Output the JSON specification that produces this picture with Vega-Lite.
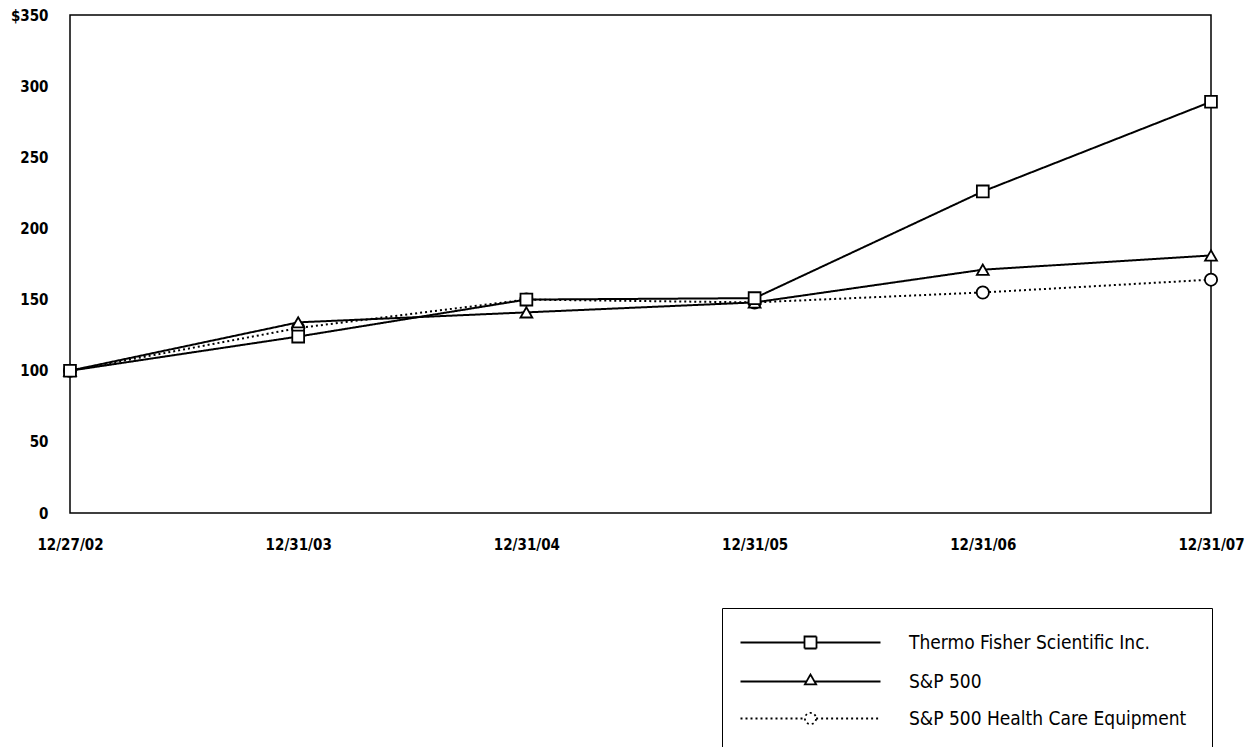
{
  "$schema": "https://vega.github.io/schema/vega-lite/v6.json",
  "autosize": {"type": "none"},
  "width": 1141,
  "height": 498,
  "padding": {"left": 70, "top": 15, "right": 37, "bottom": 234},
  "background": "white",
  "config": {
    "font": "DejaVu Sans Condensed",
    "view": {"stroke": "black", "strokeWidth": 1.5},
    "axis": {
      "grid": false,
      "ticks": false,
      "domain": false,
      "labelFont": "DejaVu Sans Condensed",
      "labelFontWeight": "bold",
      "labelFontSize": 15,
      "labelColor": "black",
      "title": null
    }
  },
  "data": {
    "values": [
      {"date": "12/27/02", "series": "Thermo Fisher Scientific Inc.", "value": 100},
      {"date": "12/31/03", "series": "Thermo Fisher Scientific Inc.", "value": 124},
      {"date": "12/31/04", "series": "Thermo Fisher Scientific Inc.", "value": 150},
      {"date": "12/31/05", "series": "Thermo Fisher Scientific Inc.", "value": 151},
      {"date": "12/31/06", "series": "Thermo Fisher Scientific Inc.", "value": 226},
      {"date": "12/31/07", "series": "Thermo Fisher Scientific Inc.", "value": 289},
      {"date": "12/27/02", "series": "S&P 500", "value": 100},
      {"date": "12/31/03", "series": "S&P 500", "value": 134},
      {"date": "12/31/04", "series": "S&P 500", "value": 141},
      {"date": "12/31/05", "series": "S&P 500", "value": 148},
      {"date": "12/31/06", "series": "S&P 500", "value": 171},
      {"date": "12/31/07", "series": "S&P 500", "value": 181},
      {"date": "12/27/02", "series": "S&P 500 Health Care Equipment", "value": 100},
      {"date": "12/31/03", "series": "S&P 500 Health Care Equipment", "value": 130},
      {"date": "12/31/04", "series": "S&P 500 Health Care Equipment", "value": 150},
      {"date": "12/31/05", "series": "S&P 500 Health Care Equipment", "value": 148},
      {"date": "12/31/06", "series": "S&P 500 Health Care Equipment", "value": 155},
      {"date": "12/31/07", "series": "S&P 500 Health Care Equipment", "value": 164}
    ]
  },
  "encoding": {
    "x": {
      "field": "date",
      "type": "ordinal",
      "scale": {"type": "point", "padding": 0},
      "axis": {"labelAngle": 0, "labelPadding": 24}
    },
    "y": {
      "field": "value",
      "type": "quantitative",
      "scale": {"domain": [0, 350], "nice": false},
      "axis": {
        "values": [0, 50, 100, 150, 200, 250, 300, 350],
        "labelPadding": 22,
        "labelExpr": "datum.value == 350 ? '$350' : datum.label"
      }
    }
  },
  "layer": [
    {
      "mark": {"type": "line", "color": "black", "strokeWidth": 2},
      "encoding": {
        "strokeDash": {
          "field": "series",
          "type": "nominal",
          "scale": {
            "domain": ["Thermo Fisher Scientific Inc.", "S&P 500", "S&P 500 Health Care Equipment"],
            "range": [[1, 0], [1, 0], [2, 3]]
          },
          "legend": {
            "orient": "none",
            "legendX": 652,
            "legendY": 593,
            "title": null,
            "strokeColor": "black",
            "padding": 25,
            "symbolSize": 16,
            "symbolOffset": 54,
            "symbolStrokeWidth": 1.8,
            "symbolStrokeColor": "black",
            "symbolFillColor": "white",
            "labelFont": "DejaVu Sans Condensed",
            "labelFontSize": 19,
            "labelColor": "black",
            "labelOffset": 89,
            "rowPadding": 17,
            "labelLimit": 400,
            "encode": {
              "symbols": {
                "update": {
                  "shape": {"signal": "datum.value === 'Thermo Fisher Scientific Inc.' ? 'M-35,0H-3M3,0H35M-3,-3H3V3H-3Z' : datum.value === 'S&P 500' ? 'M-35,0H-2.2M2.2,0H35M0,-3.5L2.8,1.4H-2.8Z' : 'M-35,0H-2.8M2.8,0H35M-2.8,0A2.8,2.8,0,1,0,2.8,0A2.8,2.8,0,1,0,-2.8,0Z'"}
                }
              }
            }
          }
        }
      }
    },
    {
      "transform": [{"filter": "datum.series === 'S&P 500 Health Care Equipment'"}],
      "mark": {"type": "point", "shape": "circle", "filled": true, "fill": "white", "stroke": "black", "strokeWidth": 1.8, "size": 150, "opacity": 1}
    },
    {
      "transform": [{"filter": "datum.series === 'S&P 500'"}],
      "mark": {"type": "point", "shape": "triangle-up", "filled": true, "fill": "white", "stroke": "black", "strokeWidth": 1.8, "size": 140, "opacity": 1}
    },
    {
      "transform": [{"filter": "datum.series === 'Thermo Fisher Scientific Inc.'"}],
      "mark": {"type": "point", "shape": "square", "filled": true, "fill": "white", "stroke": "black", "strokeWidth": 1.8, "size": 140, "opacity": 1}
    }
  ]
}
